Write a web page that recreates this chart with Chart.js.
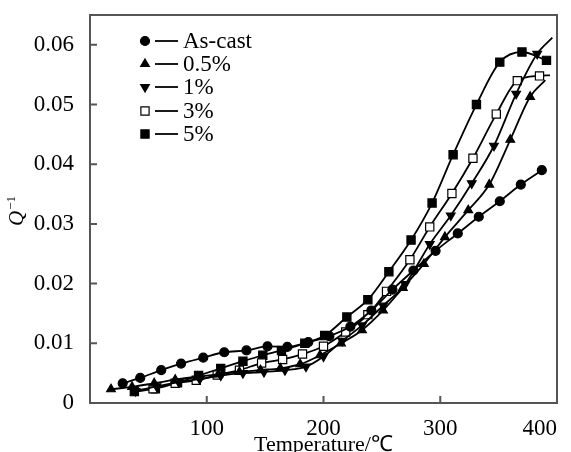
<!DOCTYPE html>
<html lang="en">
<head>
<meta charset="UTF-8">
<title>Internal friction vs temperature</title>
<script src="https://cdn.jsdelivr.net/npm/chart.js"></script>
<style>
  html, body { margin: 0; padding: 0; background: #fff; }
</style>
</head>
<body>
<canvas id="chart" width="571" height="452"></canvas>
<script>
// values (temperature in deg C, Q^-1)
const asCastT = [28, 43, 61, 78, 97, 115, 134, 152, 169, 187, 205, 223, 241, 259, 277, 296, 315, 333, 351, 369, 387];
const asCastQ = [0.0033, 0.0042, 0.0055, 0.0066, 0.0076, 0.0085, 0.0088, 0.0095, 0.0094, 0.0102, 0.0112, 0.0128, 0.0155, 0.0190, 0.0222, 0.0255, 0.0284, 0.0312, 0.0338, 0.0366, 0.0390];

const p05T = [18, 36, 55, 73, 92, 110, 128, 146, 163, 180, 197, 215, 233, 251, 268, 286, 304, 324, 342, 360, 377, 390];
const p05Q = [0.0023, 0.0027, 0.0033, 0.0039, 0.0044, 0.0048, 0.0052, 0.0055, 0.0058, 0.0065, 0.0080, 0.0100, 0.0122, 0.0155, 0.0193, 0.0233, 0.0278, 0.0323, 0.0366, 0.0441, 0.0513, 0.0541];

const p1T = [39, 57, 76, 94, 112, 131, 149, 167, 185, 200, 216, 233, 251, 270, 291, 309, 327, 346, 365, 383, 396];
const p1Q = [0.0020, 0.0028, 0.0035, 0.0040, 0.0046, 0.0050, 0.0052, 0.0055, 0.0061, 0.0078, 0.0104, 0.0130, 0.0163, 0.0199, 0.0266, 0.0314, 0.0368, 0.0431, 0.0518, 0.0585, 0.0612];

const p3T = [54, 73, 91, 109, 128, 147, 165, 182, 200, 219, 238, 254, 274, 291, 310, 328, 348, 366, 385, 394];
const p3Q = [0.0024, 0.0033, 0.0038, 0.0047, 0.0055, 0.0067, 0.0073, 0.0082, 0.0095, 0.0119, 0.0148, 0.0187, 0.0240, 0.0295, 0.0351, 0.0410, 0.0484, 0.0540, 0.0548, 0.0549];

const p5T = [38, 56, 75, 93, 112, 131, 148, 164, 184, 201, 220, 238, 256, 275, 293, 311, 331, 351, 370, 391];
const p5Q = [0.0019, 0.0024, 0.0034, 0.0046, 0.0058, 0.0070, 0.0080, 0.0088, 0.0100, 0.0113, 0.0144, 0.0173, 0.0220, 0.0273, 0.0335, 0.0416, 0.0500, 0.0571, 0.0588, 0.0574];

const seriesNames = ['As-cast', '0.5%', '1%', '3%', '5%'];
const xTickValues = [0, 100, 200, 300, 400];
const yTickValues = [0, 0.01, 0.02, 0.03, 0.04, 0.05, 0.06];

const FONT = '"Liberation Serif", "Times New Roman", serif';

// marker style per series; "tail" = trailing points drawn as line only
const styles = [
  { pointStyle: 'circle', rotation: 0, radius: 4.5, fill: '#000', tail: 0 },
  { pointStyle: 'triangle', rotation: 0, radius: 5, fill: '#000', tail: 1 },
  { pointStyle: 'triangle', rotation: 180, radius: 5, fill: '#000', tail: 1 },
  { pointStyle: 'rect', rotation: 0, radius: 5.8, fill: '#fff', tail: 1 },
  { pointStyle: 'rect', rotation: 0, radius: 5.8, fill: '#000', tail: 0 }
];

function toPoints(ts, qs) {
  return ts.map((t, i) => ({ x: t, y: qs[i] }));
}

const allData = [
  toPoints(asCastT, asCastQ),
  toPoints(p05T, p05Q),
  toPoints(p1T, p1Q),
  toPoints(p3T, p3Q),
  toPoints(p5T, p5Q)
];

const datasets = allData.map((pts, i) => {
  const s = styles[i];
  return {
    label: seriesNames[i],
    data: pts,
    showLine: true,
    borderColor: '#000',
    borderWidth: 1.8,
    cubicInterpolationMode: 'monotone',
    pointStyle: s.pointStyle,
    pointRotation: s.rotation,
    pointBackgroundColor: s.fill,
    pointBorderColor: '#000',
    pointBorderWidth: 1.2,
    pointRadius: c => (c.dataIndex >= pts.length - s.tail ? 0 : s.radius),
    pointHoverRadius: s.radius
  };
});

const legendRows = [41, 64, 87, 111, 134];

function drawMarker(ctx, s, x, y) {
  ctx.save();
  ctx.fillStyle = s.fill;
  ctx.strokeStyle = '#000';
  ctx.lineWidth = 1.2;
  if (Chart.helpers && Chart.helpers.drawPoint) {
    Chart.helpers.drawPoint(ctx, { pointStyle: s.pointStyle, rotation: s.rotation, radius: s.radius, borderWidth: 1.2 }, x, y);
  } else {
    ctx.beginPath();
    ctx.arc(x, y, s.radius, 0, Math.PI * 2);
    ctx.fill();
    ctx.stroke();
  }
  ctx.restore();
}

const decorations = {
  id: 'decorations',
  afterDraw(chart) {
    const { ctx, chartArea: a, scales: { x, y } } = chart;
    ctx.save();
    // frame
    ctx.strokeStyle = '#555';
    ctx.lineWidth = 2;
    ctx.strokeRect(a.left, a.top, a.right - a.left, a.bottom - a.top);
    // inward tick marks
    ctx.beginPath();
    xTickValues.forEach(v => {
      if (v <= 0 || v >= 400) return;
      const px = x.getPixelForValue(v);
      ctx.moveTo(px, a.bottom);
      ctx.lineTo(px, a.bottom - 7);
    });
    yTickValues.forEach(v => {
      if (v <= 0) return;
      const py = y.getPixelForValue(v);
      ctx.moveTo(a.left, py);
      ctx.lineTo(a.left + 7, py);
    });
    ctx.stroke();

    // legend
    ctx.font = '23px ' + FONT;
    ctx.textBaseline = 'middle';
    ctx.textAlign = 'left';
    seriesNames.forEach((name, i) => {
      const ly = legendRows[i];
      ctx.strokeStyle = '#000';
      ctx.lineWidth = 1.8;
      ctx.beginPath();
      ctx.moveTo(155, ly);
      ctx.lineTo(178, ly);
      ctx.stroke();
      drawMarker(ctx, styles[i], 145, ly);
      ctx.fillStyle = '#000';
      ctx.fillText(name, 183, ly + 1);
    });

    // x axis title
    ctx.fillStyle = '#000';
    ctx.textAlign = 'center';
    ctx.textBaseline = 'alphabetic';
    ctx.font = '22px ' + FONT;
    ctx.fillText('Temperature/\u2103', (a.left + a.right) / 2, 451);

    // y axis title: italic Q with superscript -1
    ctx.translate(23, 226);
    ctx.rotate(-Math.PI / 2);
    ctx.textAlign = 'left';
    ctx.font = 'italic 21px ' + FONT;
    ctx.fillText('Q', 0, 0);
    const qw = ctx.measureText('Q').width;
    ctx.font = '13px ' + FONT;
    ctx.fillText('\u22121', qw + 1, -8);
    ctx.restore();
  }
};

new Chart(document.getElementById('chart'), {
  type: 'scatter',
  data: { datasets },
  options: {
    responsive: false,
    animation: false,
    devicePixelRatio: 1,
    layout: { padding: { top: 15, right: 14, left: 0, bottom: 0 } },
    plugins: {
      legend: { display: false },
      tooltip: { enabled: false }
    },
    scales: {
      x: {
        type: 'linear',
        min: 0,
        max: 400,
        grid: { display: false },
        border: { display: true, color: '#555', width: 2 },
        afterBuildTicks: s => { s.ticks = xTickValues.map(v => ({ value: v })); },
        afterFit: s => { s.height = 49; s.paddingLeft = 0; s.paddingRight = 0; },
        ticks: {
          color: '#000',
          padding: 4,
          align: 'inner',
          maxRotation: 0,
          font: { family: FONT, size: 23 },
          callback: v => (v === 0 ? '' : String(v))
        }
      },
      y: {
        min: 0,
        max: 0.065,
        grid: { display: false },
        border: { display: true, color: '#555', width: 2 },
        afterBuildTicks: s => { s.ticks = yTickValues.map(v => ({ value: v })); },
        afterFit: s => { s.width = 90; s.paddingTop = 0; s.paddingBottom = 0; },
        ticks: {
          color: '#000',
          padding: 8,
          font: { family: FONT, size: 23 },
          callback: v => (v === 0 ? '0' : v.toFixed(2))
        }
      }
    }
  },
  plugins: [decorations]
});
</script>
</body>
</html>
